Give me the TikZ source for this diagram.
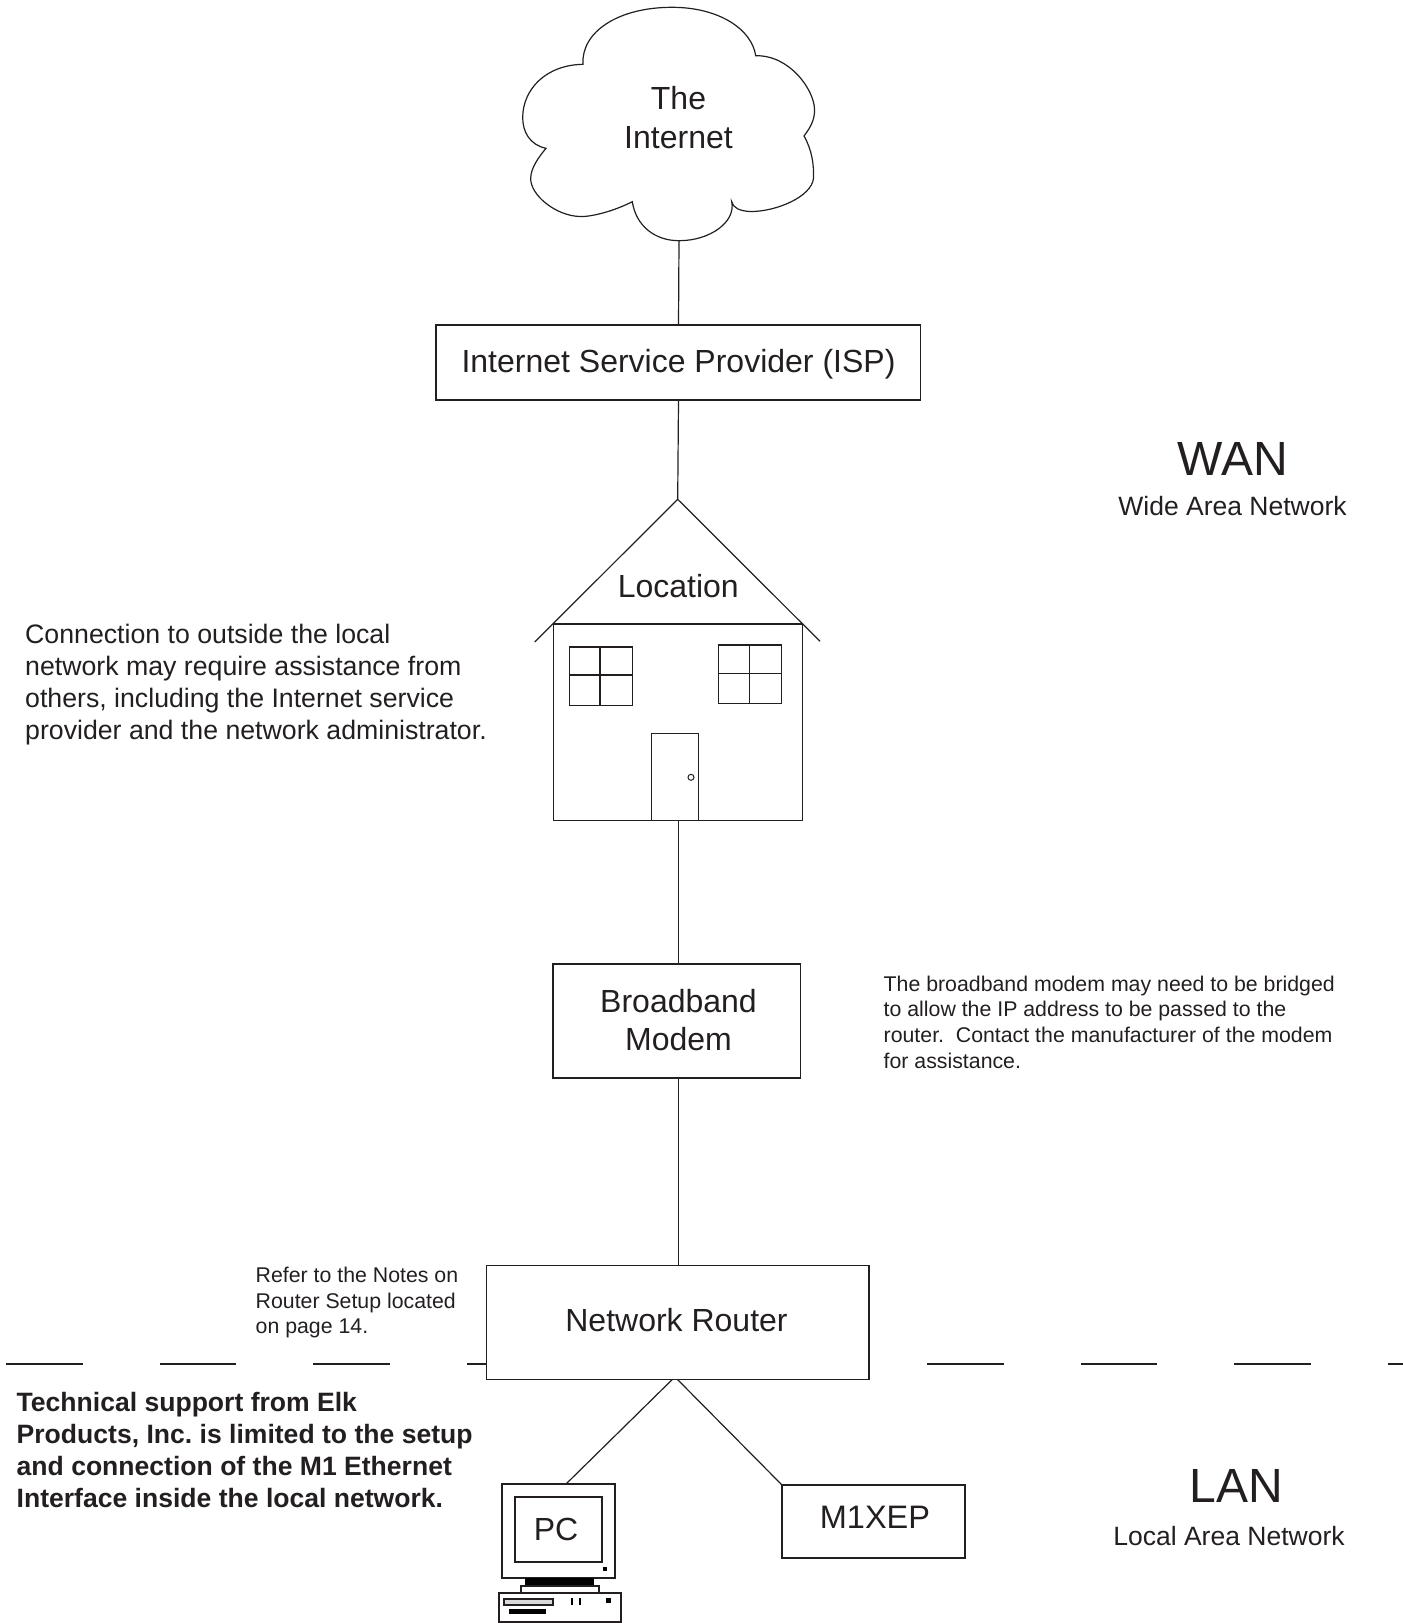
\documentclass[tikz,border=0pt]{standalone}
\usepackage{fontspec}
\setmainfont{Liberation Sans}
\definecolor{ink}{HTML}{231F20}
\begin{document}
\frenchspacing
\begin{tikzpicture}[x=1pt,y=-1pt,
  wire/.style={draw=ink,line width=1.2pt},
  boxnode/.style={draw=ink,line width=1.2pt,fill=white,rectangle,inner sep=0pt},
  plain/.style={inner sep=0pt,text=ink,align=center,font=\fontsize{32}{38.5}\selectfont},
  bignote/.style={inner sep=0pt,text=ink,align=left,anchor=west,font=\fontsize{26.7}{32}\selectfont},
  smallnote/.style={inner sep=0pt,text=ink,align=left,anchor=west,font=\fontsize{21.3}{25.6}\selectfont},
  boldnote/.style={inner sep=0pt,text=ink,align=left,anchor=west,font=\fontsize{26.55}{32}\selectfont\bfseries},
  housepart/.style={draw=ink,line width=1.2pt},
  pcpart/.style={draw=ink,line width=2pt,line join=miter}
]
\useasboundingbox (0,0) rectangle (1403,1623);
% LAN/WAN boundary
\coordinate (dashL) at (6,1363.8);
\coordinate (dashR) at (1403,1363.8);
\draw[draw=ink,line width=2.2pt,dash pattern=on 76.5pt off 77pt] (dashL) -- (dashR);
% Cloud
\coordinate (cloudBottom) at (679,240.7);
\draw[housepart] (cloudBottom)
  .. controls (655,240.7) and (636,226) .. (632.3,201.7)
  .. controls (612,212) and (590,217) .. (580,216.5)
  .. controls (556,216) and (530,195) .. (530.7,178)
  .. controls (531,168) and (538,158) .. (546,148.3)
  .. controls (530,145) and (522.5,132) .. (522.7,117)
  .. controls (523,90) and (545,65) .. (583,64.3)
  .. controls (581,32) and (618,7.3) .. (672,7.3)
  .. controls (720,7.3) and (752,30) .. (755.7,55.7)
  .. controls (790,55) and (814,90) .. (814.5,109)
  .. controls (815,120) and (810,128) .. (804,136)
  .. controls (812,150) and (814,165) .. (813.5,178)
  .. controls (812,197) and (775,212) .. (750,211.5)
  .. controls (740,211) and (733,208) .. (731.7,201.7)
  .. controls (736,222) and (710,240.7) .. (cloudBottom) -- cycle;
\node[plain] (cloudText) at (678.5,117.5) {The\\Internet};
% Boxes
\node[boxnode,minimum width=484.5pt,minimum height=75pt] (isp) at (678.25,362.5) {};
\node[plain] (ispText) at (678.5,364.5) {Internet Service Provider (ISP)};
\node[boxnode,minimum width=247.5pt,minimum height=114pt] (modem) at (676.75,1021) {};
\node[plain] (modemText) at (678.5,1020) {Broadband\\Modem};
\node[boxnode,minimum width=382.4pt,minimum height=113.8pt] (router) at (677.8,1322.4) {};
\node[plain] (routerText) at (676.5,1320) {Network Router};
\node[boxnode,minimum width=183pt,minimum height=73pt] (m1xep) at (873.5,1521.5) {};
\node[plain,font=\fontsize{32.5}{38.5}\selectfont] (m1xepText) at (875,1517) {M1XEP};
% House
\coordinate (apex) at (677.7,499.3);
\coordinate (eaveL) at (534.7,642);
\coordinate (eaveR) at (820,641.3);
\coordinate (houseBottom) at (678.5,820.7);
\draw[housepart] (eaveL) -- (apex) -- (eaveR);
\draw[housepart] (553.7,624) rectangle (802.3,820.7);
\node[plain] (loc) at (678.3,586) {Location};
\draw[housepart] (569.7,647) rectangle (632.3,705.7) (600,647) -- (600,705.7) (569.7,675) -- (632.3,675);
\draw[housepart] (718.7,645) rectangle (781.3,703.7) (749.7,645) -- (749.7,703.7) (718.7,673.7) -- (781.3,673.7);
\draw[housepart] (651.7,733.7) rectangle (698.3,820.7);
\draw[draw=ink,line width=1pt] (691,777.3) circle (3pt);
% Connectors
\coordinate (ispTop) at (678.5,325);
\coordinate (ispBot) at (678.5,400);
\coordinate (modTop) at (678.5,964);
\coordinate (modBot) at (678.5,1078);
\coordinate (rtrTop) at (678.5,1265.5);
\draw[wire] (cloudBottom) -- (ispTop);
\draw[wire] (ispBot) -- (apex);
\draw[wire] (houseBottom) -- (modTop);
\draw[wire] (modBot) -- (rtrTop);
\coordinate (rtrL) at (672.5,1379.3);
\coordinate (rtrR) at (677.3,1379.3);
\coordinate (pcTop) at (566,1484);
\coordinate (m1Corner) at (782,1485);
\draw[wire] (rtrL) -- (pcTop);
\draw[wire] (rtrR) -- (m1Corner);
% PC
\draw[pcpart] (501.7,1484) rectangle (615.3,1578.3);
\draw[pcpart] (515,1497.3) rectangle (602,1562.3);
\node[plain] (pc) at (556,1529) {PC};
\fill[black] (603.3,1566.7) rectangle (607.3,1570.7);
\fill[black] (525.3,1578.3) rectangle (594.3,1585.7);
\draw[pcpart] (520.7,1585.7) rectangle (599.3,1593.3);
\draw[pcpart] (499,1593.3) rectangle (620.7,1622.2);
\draw[pcpart,fill=black!15] (504.3,1599) rectangle (553.3,1604.7);
\fill[black] (509,1609) rectangle (546.3,1613.7);
\fill[black] (570.5,1598.3) rectangle (572.8,1605.3);
\fill[black] (579,1598.3) rectangle (581.3,1605.3);
\fill[black] (605.5,1598) rectangle (610.5,1603);
% Labels
\node[inner sep=0pt,text=ink,font=\fontsize{48}{48}\selectfont] (wan) at (1233,459) {WAN};
\node[inner sep=0pt,text=ink,font=\fontsize{26.5}{32}\selectfont] (wanSub) at (1232.5,506) {Wide Area Network};
\node[inner sep=0pt,text=ink,font=\fontsize{48}{48}\selectfont] (lan) at (1236,1486) {LAN};
\node[inner sep=0pt,text=ink,font=\fontsize{26.5}{32}\selectfont] (lanSub) at (1229,1536) {Local Area Network};
\node[bignote] (note1) at (25,684.5) {Connection to outside the local\\network may require assistance from\\others, including the Internet service\\provider and the network administrator.};
\node[smallnote] (note2) at (883.5,1022) {The broadband modem may need to be bridged\\to allow the IP address to be passed to the\\router.\ \ Contact the manufacturer of the modem\\for assistance.};
\node[smallnote] (note3) at (255.5,1302.5) {Refer to the Notes on\\Router Setup located\\on page 14.};
\node[boldnote] (note4) at (16.5,1449.5) {Technical support from Elk\\Products, Inc. is limited to the setup\\and connection of the M1 Ethernet\\Interface inside the local network.};
\end{tikzpicture}
\end{document}
